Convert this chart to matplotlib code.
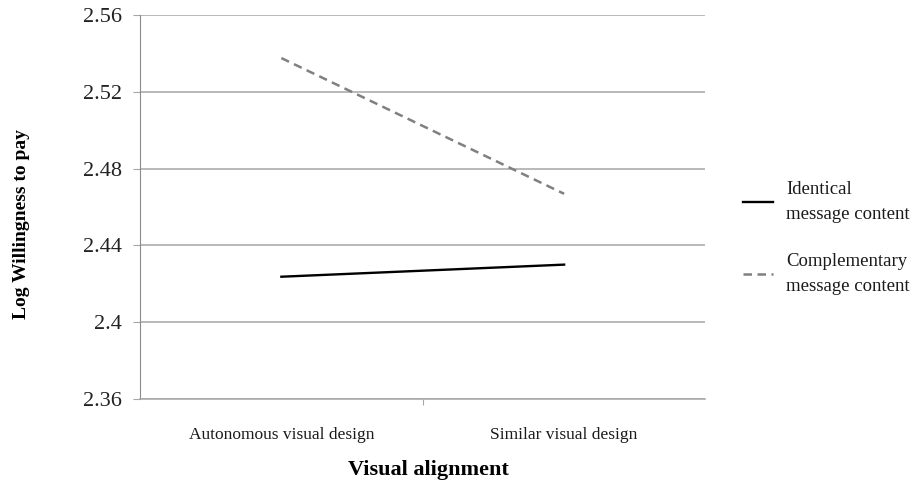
import matplotlib.pyplot as plt

plt.rcParams['font.family'] = ['Liberation Serif', 'DejaVu Serif']

# data
categories = ["Autonomous visual design", "Similar visual design"]
identical = [2.4237, 2.4300]
complementary = [2.5376, 2.4669]
series_labels = ["Identical\nmessage content", "Complementary\nmessage content"]
y_ticks = [2.36, 2.40, 2.44, 2.48, 2.52, 2.56]
y_tick_labels = ["2.36", "2.4", "2.44", "2.48", "2.52", "2.56"]

fig = plt.figure(figsize=(9.18, 4.86), dpi=100)
ax = fig.add_axes([0.1525, 0.179, 0.616, 0.790])

x = [0.5, 1.5]
ax.plot(x, identical, color="black", lw=1.7, label=series_labels[0])
ax.plot(x, complementary, color="#808080", lw=1.8, dashes=(3.4, 2.2),
        label=series_labels[1])

ax.set_xlim(0, 2)
ax.set_ylim(2.36, 2.56)
ax.set_yticks(y_ticks)
ax.set_yticklabels(y_tick_labels, fontsize=16)
ax.set_xticks([1])
ax.set_xticklabels([])
for xi, name in zip(x, categories):
    ax.text(xi, -0.095, name, transform=ax.get_xaxis_transform(),
            ha="center", va="center", fontsize=12.5, color="#1a1a1a")

ax.grid(axis="y", color="#a6a6a6", lw=1.1)
ax.set_axisbelow(True)
for s in ["top", "right"]:
    ax.spines[s].set_visible(False)
ax.spines["left"].set_color("#8c8c8c")
ax.spines["bottom"].set_color("#a6a6a6")
ax.spines["bottom"].set_linewidth(1.1)
ax.tick_params(axis="y", length=5, pad=8, colors="#222222")
ax.tick_params(axis="y", color="#a6a6a6")
ax.tick_params(axis="x", length=4, color="#a6a6a6")

fig.text(22 / 918, 1 - 224 / 486, "Log Willingness to pay", rotation=90,
         ha="center", va="center", fontsize=14, fontweight="bold")
fig.text(428 / 918, 1 - 470 / 486, "Visual alignment", ha="center",
         va="center", fontsize=16, fontweight="bold")

leg = ax.legend(loc="center left", bbox_to_anchor=(1.067, 0.42), frameon=False,
                fontsize=13.5, labelspacing=1.6, handlelength=1.6,
                handletextpad=0.7, borderpad=0, borderaxespad=0)
for t in leg.get_texts():
    t.set_linespacing(1.6)
    t.set_color("#1a1a1a")

fig.savefig("out.png", dpi=100)
